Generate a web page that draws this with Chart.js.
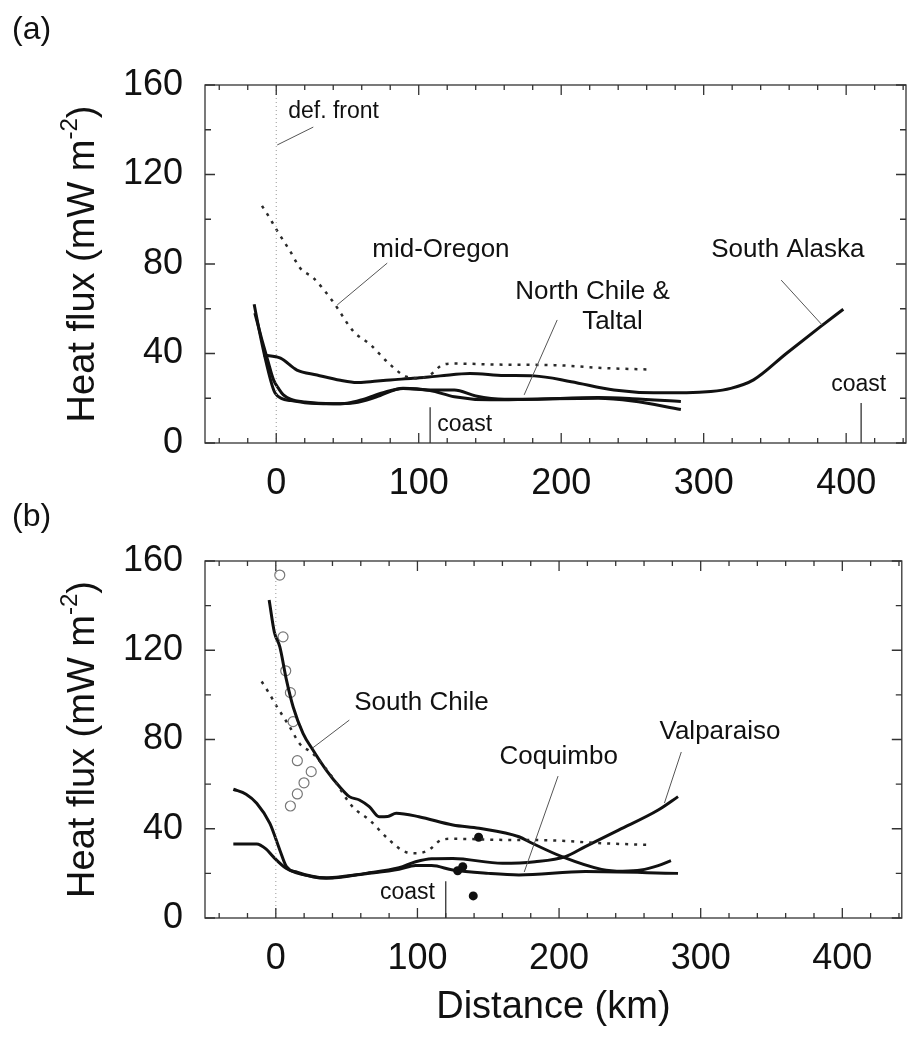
<!DOCTYPE html>
<html>
<head>
<meta charset="utf-8">
<script src="https://cdn.jsdelivr.net/npm/chart.js@4.4.1/dist/chart.umd.min.js"></script>
<style>
  html, body { margin: 0; padding: 0; background: #fff; }
  #wrap { position: relative; width: 908px; height: 1038px; overflow: hidden; background: #fff; }
  canvas { position: absolute; left: 0; }
  #chartA { top: 0; }
  #chartB { top: 500px; }
</style>
</head>
<body>
<div id="wrap">
  <canvas id="chartA" width="908" height="500"></canvas>
  <canvas id="chartB" width="908" height="538"></canvas>
</div>
<script>
const FONT = '"Liberation Sans", Arial, Helvetica, sans-serif';

// ---- Axis settings (km, mW m^-2) ----
const xMin = -50, xMax = 442;
const yMin = 0, yMax = 160;
const xTickLabels = [0, 100, 200, 300, 400];
const yTickLabels = [0, 40, 80, 120, 160];

// ---- Panel (a) profiles ----
const alaskaX = [-9, 3, 14.5, 28.6, 45, 56.6, 66, 80, 96, 115, 136, 160, 181, 207, 237, 265, 288, 305, 319, 335, 358, 382, 398];
const alaskaY = [39.3, 37.9, 32.6, 30.4, 28, 27, 27.4, 28.2, 28.9, 30, 31.1, 30.2, 30, 27.4, 23.7, 22.5, 22.5, 23, 24.4, 28.2, 40, 52, 59.8];

const northChileX = [-15.5, -12, -8, -3, -0.7, 4, 10, 20, 38, 50, 61, 75, 89, 108, 125, 140, 160, 180, 226, 250, 284];
const northChileY = [62, 50.5, 38.6, 26, 22.2, 19.8, 19, 18, 17.5, 17.8, 19.5, 22.5, 24.4, 23.7, 23.7, 21, 19.5, 19.6, 20.3, 19.8, 18.5];

const taltalX = [-15, -10, -6, -1.9, 2, 5, 10, 20, 40, 55, 70, 89, 108, 125, 150, 180, 226, 250, 284];
const taltalY = [58, 46, 37, 28.2, 24, 21.5, 19.6, 18.3, 17.5, 18, 20.5, 24.5, 23.5, 20.7, 19.3, 19.6, 20, 18.8, 15];

// mid-Oregon (dotted, shown in both panels)
const oregonX = [-10, -5, 0.5, 9.8, 17, 26, 40, 54, 66, 80, 92, 100, 108, 117, 125, 160, 195, 230, 263];
const oregonY = [106, 101, 95, 85.7, 78, 73.8, 63, 50, 44, 35, 29.5, 29, 30.5, 35, 35.5, 35, 34.8, 33.5, 32.8];

// ---- Panel (b) profiles ----
const southChileX = [-4.7, -1, 2.8, 7.5, 12.2, 19.2, 26.2, 35.6, 44.9, 51.9, 59, 66, 73, 79, 85, 101, 125, 143.6, 171.7, 181, 202, 230, 245, 258, 270, 279];
const southChileY = [142.5, 128, 121.6, 106.7, 94.7, 82.8, 75.3, 66.3, 58.9, 54.4, 52.9, 49.9, 45.4, 45.5, 46.9, 45.4, 41.7, 40.2, 36.4, 33.5, 27.5, 21.8, 21, 21.5, 23.5, 25.7];

const coquimboX = [-30, -21, -13.5, -4.2, 2.8, 7.5, 15, 35.6, 50, 63.6, 87, 98.7, 110, 125, 150, 171.7, 218.5, 284];
const coquimboY = [57.7, 55.5, 51.4, 42.4, 30.5, 23, 20.5, 18, 18.8, 19.8, 21.8, 23.5, 23.5, 21.5, 20, 19.3, 20.8, 20];

const valparaisoX = [-30, -13.5, -7, -1.9, 7.5, 26, 35.6, 63.6, 87, 98.7, 110, 125, 160, 183, 204.5, 218.5, 242, 270, 284];
const valparaisoY = [33.2, 33.2, 31, 27.5, 22.2, 18.5, 17.8, 20, 22.5, 25.2, 26.6, 26.7, 24.5, 25.2, 27.5, 32, 39.4, 48.4, 54.4];

// point measurements
const openX = [2.8, 5.1, 7, 10.3, 12.2, 15.2, 25, 19.9, 15.2, 10.3];
const openY = [153.7, 126, 110.8, 101, 88, 70.5, 65.6, 60.6, 55.6, 50.2];
const filledX = [143.2, 132, 128.4, 139.4];
const filledY = [36.2, 23, 21.2, 9.9];

// reference positions
const defFrontX = 0;
const coastA = [108, 410.5];
const coastAHeight = [16, 17.9];
const coastB = [120];
const coastBHeight = [16.5];

// ---- helpers ----
const pts = (xs, ys) => xs.map((x, i) => ({ x, y: ys[i] }));

function solid(label, xs, ys) {
  return { label, data: pts(xs, ys), showLine: true, borderColor: '#111', borderWidth: 3,
           pointRadius: 0, cubicInterpolationMode: 'monotone', fill: false };
}
function dotted(label, xs, ys) {
  return { label, data: pts(xs, ys), showLine: true, borderColor: '#2a2a2a', borderWidth: 2.5,
           borderDash: [3, 6], pointRadius: 0, cubicInterpolationMode: 'monotone', fill: false };
}
function vline(label, x, top, color, width, dash) {
  return { label, data: [{ x, y: 0 }, { x, y: top }], showLine: true, borderColor: color,
           borderWidth: width, borderDash: dash || [], pointRadius: 0, fill: false };
}

// frame, inward ticks, annotations, y title and panel tag
const decor = {
  id: 'decor',
  afterDatasetsDraw(chart, args, o) {
    const { ctx, chartArea: a, scales: { x, y } } = chart;
    ctx.save();
    ctx.strokeStyle = '#333';
    ctx.lineWidth = 1.3;
    ctx.strokeRect(a.left, a.top, a.right - a.left, a.bottom - a.top);
    ctx.beginPath();
    for (let v = -40; v <= xMax; v += 20) {
      const px = x.getPixelForValue(v);
      const len = v % 100 === 0 ? 10 : 5;
      ctx.moveTo(px, a.bottom); ctx.lineTo(px, a.bottom - len);
      ctx.moveTo(px, a.top); ctx.lineTo(px, a.top + len);
    }
    for (let v = yMin; v <= yMax; v += 20) {
      const py = y.getPixelForValue(v);
      const len = v % 40 === 0 ? 10 : 6;
      ctx.moveTo(a.left, py); ctx.lineTo(a.left + len, py);
      ctx.moveTo(a.right, py); ctx.lineTo(a.right - len, py);
    }
    ctx.stroke();

    // leader lines
    ctx.strokeStyle = '#555';
    ctx.lineWidth = 1;
    ctx.beginPath();
    (o.leaders || []).forEach(l => {
      ctx.moveTo(x.getPixelForValue(l[0]), y.getPixelForValue(l[1]));
      ctx.lineTo(x.getPixelForValue(l[2]), y.getPixelForValue(l[3]));
    });
    ctx.stroke();

    // labels
    ctx.fillStyle = '#111';
    ctx.textBaseline = 'middle';
    (o.labels || []).forEach(l => {
      ctx.font = (l.size || 26) + 'px ' + FONT;
      ctx.textAlign = l.align || 'left';
      ctx.fillText(l.text, x.getPixelForValue(l.x), y.getPixelForValue(l.y));
    });

    // y-axis title with superscript
    const cy = (a.top + a.bottom) / 2;
    ctx.translate(84, cy);
    ctx.rotate(-Math.PI / 2);
    const main = 'Heat flux (mW m', sup = '-2', tail = ')';
    ctx.font = '38px ' + FONT;
    const w1 = ctx.measureText(main).width, w3 = ctx.measureText(tail).width;
    ctx.font = '24px ' + FONT;
    const w2 = ctx.measureText(sup).width;
    let sx = -(w1 + w2 + w3) / 2;
    ctx.textAlign = 'left';
    ctx.font = '38px ' + FONT;
    ctx.fillText(main, sx, 0);
    ctx.font = '24px ' + FONT;
    ctx.fillText(sup, sx + w1, -14);
    ctx.font = '38px ' + FONT;
    ctx.fillText(tail, sx + w1 + w2, 0);
    ctx.restore();

    // panel tag
    ctx.save();
    ctx.fillStyle = '#111';
    ctx.font = '32px ' + FONT;
    ctx.textBaseline = 'middle';
    ctx.textAlign = 'left';
    ctx.fillText(o.tag, 12, o.tagY);
    ctx.restore();
  }
};

function makeOptions(padTop, xHeight, showTitle, decorOpts) {
  return {
    responsive: false,
    animation: false,
    layout: { padding: { top: padTop, right: 2, left: 0, bottom: 0 } },
    plugins: { legend: { display: false }, tooltip: { enabled: false }, decor: decorOpts },
    scales: {
      x: {
        type: 'linear', min: xMin, max: xMax,
        grid: { display: false, drawTicks: false }, border: { display: false },
        ticks: {
          stepSize: 20, autoSkip: false, maxRotation: 0, includeBounds: false, padding: 19,
          font: { family: FONT, size: 36 }, color: '#111',
          callback: v => xTickLabels.includes(v) ? String(v) : ''
        },
        title: { display: showTitle, text: 'Distance (km)', font: { family: FONT, size: 38 },
                 color: '#111', padding: { top: 0, bottom: 8 } },
        afterFit: s => { s.height = xHeight; s.paddingLeft = 0; s.paddingRight = 0; }
      },
      y: {
        type: 'linear', min: yMin, max: yMax,
        grid: { display: false, drawTicks: false }, border: { display: false },
        ticks: {
          stepSize: 20, autoSkip: false, padding: 22,
          font: { family: FONT, size: 36 }, color: '#111',
          callback: v => yTickLabels.includes(v) ? String(v) : ''
        },
        afterFit: s => { s.width = 205; }
      }
    }
  };
}

// ---- Panel (a) ----
new Chart(document.getElementById('chartA'), {
  type: 'scatter',
  data: {
    datasets: [
      vline('def. front', defFrontX, yMax, '#999', 1, [1, 3]),
      vline('coast', coastA[0], coastAHeight[0], '#222', 1.2),
      vline('coast', coastA[1], coastAHeight[1], '#222', 1.2),
      dotted('mid-Oregon', oregonX, oregonY),
      solid('South Alaska', alaskaX, alaskaY),
      solid('North Chile', northChileX, northChileY),
      solid('Taltal', taltalX, taltalY)
    ]
  },
  options: makeOptions(85, 57, false, {
    tag: '(a)', tagY: 30,
    labels: [
      { text: 'def. front', x: 8.4, y: 148, size: 23 },
      { text: 'mid-Oregon', x: 67.4, y: 86.3 },
      { text: 'North Chile &', x: 167.7, y: 67.5 },
      { text: 'Taltal', x: 214.7, y: 54.1 },
      { text: 'South Alaska', x: 305.3, y: 86.3 },
      { text: 'coast', x: 113, y: 8, size: 23 },
      { text: 'coast', x: 389.5, y: 25.9, size: 23 }
    ],
    leaders: [[26, 141.2, 0.7, 133.2], [77.9, 80.4, 42.8, 61.7], [197.2, 55, 174, 21.5], [354.4, 72.8, 383.2, 52.7]]
  }),
  plugins: [decor]
});

// ---- Panel (b) ----
new Chart(document.getElementById('chartB'), {
  type: 'scatter',
  data: {
    datasets: [
      vline('def. front', defFrontX, yMax, '#999', 1, [1, 3]),
      vline('coast', coastB[0], coastBHeight[0], '#222', 1.2),
      dotted('mid-Oregon', oregonX, oregonY),
      solid('South Chile', southChileX, southChileY),
      solid('Coquimbo', coquimboX, coquimboY),
      solid('Valparaiso', valparaisoX, valparaisoY),
      { label: 'open', data: pts(openX, openY), showLine: false, pointStyle: 'circle', pointRadius: 5,
        pointBorderWidth: 1.2, pointBorderColor: '#777', pointBackgroundColor: 'rgba(255,255,255,0)' },
      { label: 'filled', data: pts(filledX, filledY), showLine: false, pointStyle: 'circle', pointRadius: 4.5,
        pointBorderWidth: 0, pointBackgroundColor: '#111' }
    ]
  },
  options: makeOptions(61, 120, true, {
    tag: '(b)', tagY: 17,
    labels: [
      { text: 'South Chile', x: 55.4, y: 96.4 },
      { text: 'Coquimbo', x: 157.9, y: 72.2 },
      { text: 'Valparaiso', x: 270.9, y: 83.4 },
      { text: 'coast', x: 112.3, y: 11.2, size: 23, align: 'right' }
    ],
    leaders: [[51.9, 88.7, 26, 76.2], [199.3, 63.6, 175.4, 20.6], [286.3, 74.4, 274.4, 51.5]]
  }),
  plugins: [decor]
});
</script>
</body>
</html>
